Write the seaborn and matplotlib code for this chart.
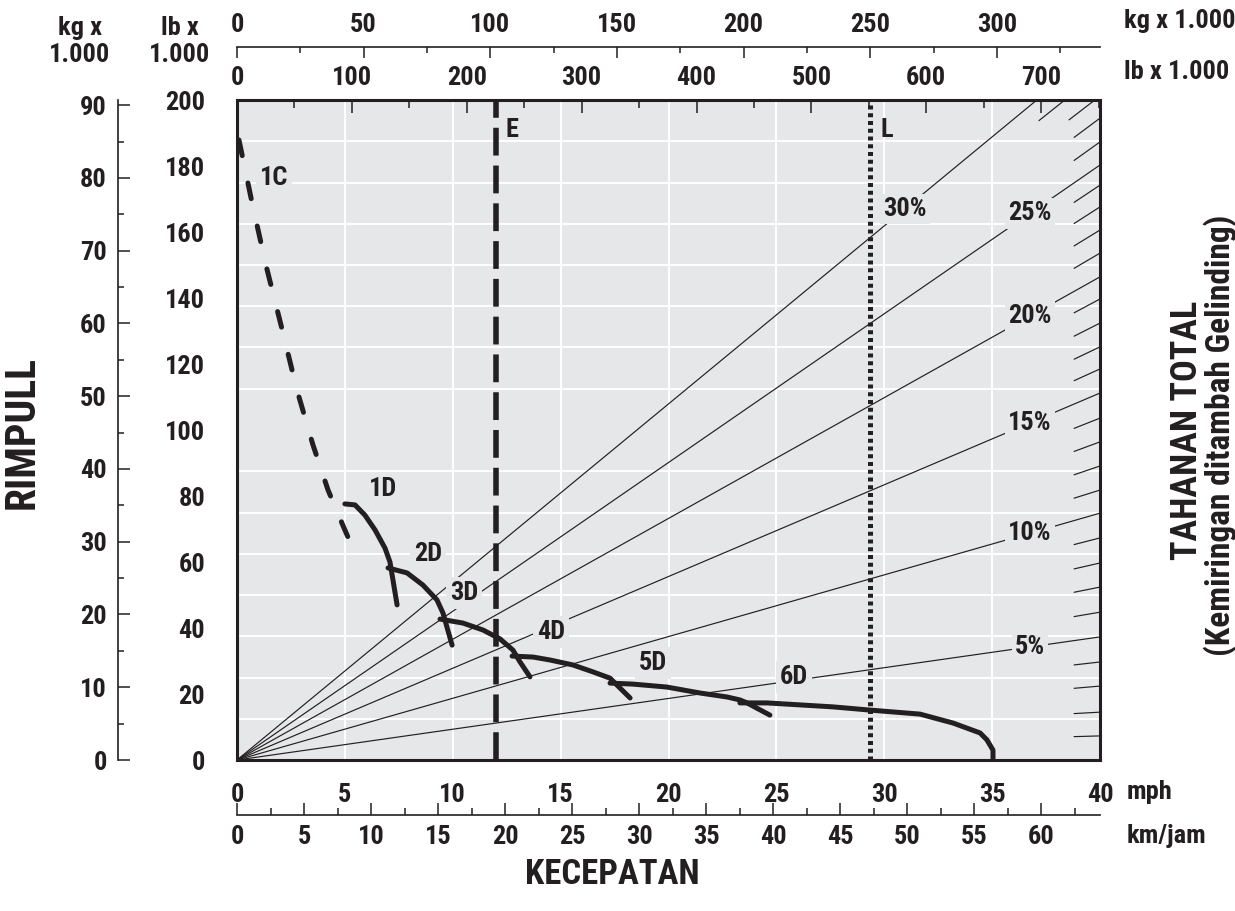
import os
import numpy as np
import pandas as pd
import matplotlib
matplotlib.use("Agg")
import matplotlib.pyplot as plt
from matplotlib import font_manager as fm
import seaborn as sns

# ---------------- data ----------------
mph_ticks = [0, 5, 10, 15, 20, 25, 30, 35, 40]
kmh_ticks = [0, 5, 10, 15, 20, 25, 30, 35, 40, 45, 50, 55, 60]
kmh_minor = [2.5, 7.5, 12.5, 17.5, 22.5, 27.5, 32.5, 37.5, 42.5, 47.5, 52.5, 57.5, 62.5]
rimpull_lb_ticks = [0, 20, 40, 60, 80, 100, 120, 140, 160, 180, 200]
rimpull_kg_ticks = [0, 10, 20, 30, 40, 50, 60, 70, 80, 90]
rimpull_kg_minor = [5, 15, 25, 35, 45, 55, 65, 75, 85]
weight_lb_ticks = [0, 100, 200, 300, 400, 500, 600, 700]
weight_lb_minor = [50, 150, 250, 350, 450, 550, 650, 750]
weight_kg_ticks = [0, 50, 100, 150, 200, 250, 300]
weight_kg_minor = [25, 75, 125, 175, 225, 275, 325]

gear_1C_speed = [0.09, 0.70, 1.34, 2.04, 2.78, 3.52, 4.22, 4.96, 5.47]
gear_1C_rimpull = [187.9, 168.8, 150.0, 131.8, 112.1, 95.5, 81.8, 70.3, 62.7]

gear_1D_speed = [5.00, 5.47, 5.93, 6.40, 6.86, 7.09, 7.23, 7.42]
gear_1D_rimpull = [77.6, 77.3, 74.2, 69.7, 64.2, 60.0, 54.5, 47.0]
gear_2D_speed = [7.00, 7.88, 8.62, 9.27, 9.55, 9.73, 9.97]
gear_2D_rimpull = [58.2, 56.7, 53.0, 48.5, 44.5, 40.3, 34.8]
gear_3D_speed = [9.41, 10.47, 11.40, 12.19, 12.79, 13.12, 13.58]
gear_3D_rimpull = [42.7, 41.5, 39.4, 36.7, 33.3, 29.7, 25.2]
gear_4D_speed = [12.75, 13.72, 14.51, 15.57, 16.50, 17.29, 17.52, 18.22]
gear_4D_rimpull = [31.5, 31.2, 30.3, 28.8, 26.7, 24.8, 23.3, 18.8]
gear_5D_speed = [17.29, 18.35, 19.93, 21.46, 22.71, 23.31, 23.64, 24.70]
gear_5D_rimpull = [23.3, 23.0, 22.1, 20.3, 19.1, 18.2, 17.3, 13.6]
gear_6D_speed = [23.31, 24.56, 27.62, 29.20, 31.66, 33.19, 34.44, 34.76, 35.04, 35.04]
gear_6D_rimpull = [17.3, 17.3, 16.1, 15.2, 13.9, 11.2, 8.2, 6.1, 3.0, 0.0]

gear_names = ["1D", "2D", "3D", "4D", "5D", "6D"]
gear_label_speed = [6.77, 8.85, 10.52, 14.55, 19.30, 25.82]
gear_label_rimpull = [82.1, 62.4, 50.6, 38.8, 29.4, 25.2]

# total resistance lines: rimpull (lb x 1000) that each line reaches at 40 mph
resistance_pct = list(range(1, 31))
resistance_rimpull_at_40 = [7.3, 14.5, 22.4, 29.7, 37.3, 44.8, 52.4, 59.7, 67.3, 74.8,
                            81.8, 89.1, 96.4, 103.6, 111.2, 118.5, 125.2, 132.4, 139.7, 146.4,
                            153.6, 160.6, 167.6, 174.2, 180.3, 187.3, 194.5, 201.2, 208.5, 215.8]
labeled_pct = [5, 10, 15, 20, 25, 30]
labeled_pct_speed = [36.75, 36.75, 36.75, 36.75, 36.75, 30.96]

E_speed = 12.0
L_speed = 29.35

# ---------------- scale conversions ----------------
KMH_PER_MPH = 1.609344
KG_PER_LB = 1 / 2.20462
LB_PER_MPH = 18.78   # top gross-weight scale vs. speed axis

INK = "#231f20"
BG = "#e6e7e8"

# ---------------- font: a condensed bold face ----------------
files = {}
for f in fm.fontManager.ttflist:
    files.setdefault(os.path.basename(f.fname), f.fname)
cands = ["RobotoCondensed-Bold.ttf", "BarlowCondensed-Bold.ttf", "AsapCondensed-Bold.ttf",
         "LiberationSansNarrow-Bold.ttf", "LiberationSans-Bold.ttf"]
chosen = next((files[c] for c in cands if c in files), None)
FAM = ["DejaVu Sans"]
if chosen:
    fm.fontManager.ttflist.insert(0, fm.FontEntry(fname=chosen, name="ChartCond", style="normal",
                                                  variant="normal", weight=700, stretch="normal",
                                                  size="scalable"))
    FAM = ["ChartCond", "DejaVu Sans"]

sns.set_theme(style="darkgrid", rc={"axes.facecolor": BG, "grid.color": "white"})
plt.rcParams["font.family"] = FAM
plt.rcParams["font.weight"] = "bold"
plt.rcParams["text.color"] = INK
plt.rcParams["xtick.color"] = INK
plt.rcParams["ytick.color"] = INK

W, H = 1235, 911
fig = plt.figure(figsize=(W / 100, H / 100), dpi=100)
fig.patch.set_facecolor("white")
AX_L, AX_R, AX_T, AX_B = 237, 1100, 100, 760
ax = fig.add_axes([AX_L / W, 1 - AX_B / H, (AX_R - AX_L) / W, (AX_B - AX_T) / H])
ax.set_facecolor(BG)
ax.set_xlim(0, 40)
ax.set_ylim(0, 200)
ax.set_axisbelow(True)

TS = 19

ax.set_xticks(mph_ticks)
ax.set_xticklabels([])
ax.set_yticks(rimpull_lb_ticks)
ax.set_yticks(np.arange(0, 200.01, 12.5), minor=True)
ax.tick_params(axis="x", which="both", length=0, labelbottom=False)
ax.tick_params(axis="y", which="major", length=0, pad=23, labelsize=TS, labelcolor=INK)
ax.tick_params(axis="y", which="minor", length=0)
ax.grid(False)
ax.xaxis.grid(True, which="major", color="white", lw=1.4)
ax.yaxis.grid(True, which="minor", color="white", lw=1.4)
ax.yaxis.grid(False, which="major")
for s in ax.spines.values():
    s.set_visible(True)
    s.set_color(INK)
    s.set_linewidth(2.2)
    s.set_zorder(6)

# ---------------- resistance lines ----------------
rays = []
for p, e in zip(resistance_pct, resistance_rimpull_at_40):
    x_exit = 40 if e <= 200 else 40 * 200 / e
    x0 = 0 if p in labeled_pct else x_exit - 1.2
    rays.append(pd.DataFrame({"speed": [x0, x_exit], "rimpull": [e * x0 / 40, e * x_exit / 40], "line": p}))
df_rays = pd.concat(rays, ignore_index=True)
sns.lineplot(data=df_rays, x="speed", y="rimpull", units="line", estimator=None, sort=False,
             color=INK, linewidth=0.85, ax=ax, legend=False, zorder=2)

for p, xs in zip(labeled_pct, labeled_pct_speed):
    e = resistance_rimpull_at_40[resistance_pct.index(p)]
    ax.text(xs, e * xs / 40, f"{p}%", ha="center", va="center", fontsize=TS, color=INK,
            zorder=4, bbox=dict(boxstyle="square,pad=0.12", fc=BG, ec="none"))

# ---------------- E and L lines ----------------
ax.axvline(E_speed, color=INK, lw=4.0, linestyle=(0, (5, 1.8)), zorder=3)
ax.axvline(L_speed, color=INK, lw=3.6, linestyle=(0, (0.8, 0.75)), zorder=3)
ax.text(E_speed + 0.75, 191, "E", ha="center", va="center", fontsize=TS, color=INK, zorder=4)
ax.text(L_speed + 0.75, 191, "L", ha="center", va="center", fontsize=TS, color=INK, zorder=4)

# ---------------- rimpull curves ----------------
frames = []
for name, sp, rp in zip(gear_names,
                        [gear_1D_speed, gear_2D_speed, gear_3D_speed, gear_4D_speed, gear_5D_speed, gear_6D_speed],
                        [gear_1D_rimpull, gear_2D_rimpull, gear_3D_rimpull, gear_4D_rimpull, gear_5D_rimpull, gear_6D_rimpull]):
    frames.append(pd.DataFrame({"speed": sp, "rimpull": rp, "gear": name}))
df_gears = pd.concat(frames, ignore_index=True)
sns.lineplot(data=df_gears, x="speed", y="rimpull", units="gear", estimator=None, sort=False,
             color=INK, linewidth=3.6, ax=ax, legend=False, zorder=5,
             solid_capstyle="round", solid_joinstyle="round")
df_1c = pd.DataFrame({"speed": gear_1C_speed, "rimpull": gear_1C_rimpull})
sns.lineplot(data=df_1c, x="speed", y="rimpull", estimator=None, sort=False, color=INK,
             linewidth=3.6, ax=ax, legend=False, zorder=5)
ax.lines[-1].set_linestyle((0, (3.2, 5.6)))
ax.lines[-1].set_dash_capstyle("round")

for name, xs, ys in zip(gear_names, gear_label_speed, gear_label_rimpull):
    ax.text(xs, ys, name, ha="center", va="center", fontsize=TS, color=INK, zorder=4,
            bbox=dict(boxstyle="square,pad=0.15", fc=BG, ec="none"))
ax.text(1.71, 176.4, "1C", ha="center", va="center", fontsize=TS, color=INK, zorder=4,
        bbox=dict(boxstyle="square,pad=0.15", fc=BG, ec="none"))
ax.set_xlabel("")
ax.set_ylabel("")

# ---------------- secondary scales ----------------
lbw = ax.secondary_xaxis("top", functions=(lambda m: m * LB_PER_MPH, lambda w: w / LB_PER_MPH))
lbw.set_xticks(weight_lb_ticks)
lbw.set_xticks(weight_lb_minor, minor=True)
lbw.tick_params(which="major", direction="in", length=9.5, width=1.1, color=INK, pad=7,
                labelsize=TS, labelcolor=INK)
lbw.tick_params(which="minor", direction="in", length=5.5, width=1.1, color=INK)
lbw.spines["top"].set_visible(False)

kgw = ax.secondary_xaxis(1 + (AX_T - 47) / (AX_B - AX_T),
                         functions=(lambda m: m * LB_PER_MPH * KG_PER_LB,
                                    lambda k: k / (LB_PER_MPH * KG_PER_LB)))
kgw.set_xticks(weight_kg_ticks)
kgw.set_xticks(weight_kg_minor, minor=True)
kgw.tick_params(which="major", direction="in", length=8, width=1.1, color=INK, pad=7,
                labelsize=TS, labelcolor=INK)
kgw.tick_params(which="minor", direction="in", length=4.5, width=1.1, color=INK)
kgw.spines["top"].set_color(INK)
kgw.spines["top"].set_linewidth(1.2)

kgr = ax.secondary_yaxis(-(AX_L - 118) / (AX_R - AX_L),
                         functions=(lambda l: l * KG_PER_LB, lambda k: k / KG_PER_LB))
kgr.set_yticks(rimpull_kg_ticks)
kgr.set_yticks(rimpull_kg_minor, minor=True)
kgr.tick_params(which="major", direction="in", length=8.5, width=1.1, color=INK, pad=8,
                labelsize=TS, labelcolor=INK)
kgr.tick_params(which="minor", direction="in", length=4.5, width=1.1, color=INK)
kgr.spines["left"].set_color(INK)
kgr.spines["left"].set_linewidth(1.2)

loc_b = -(815 - AX_B) / (AX_B - AX_T)
kmx = ax.secondary_xaxis(loc_b, functions=(lambda m: m * KMH_PER_MPH, lambda k: k / KMH_PER_MPH))
kmx.set_xticks(kmh_ticks)
kmx.set_xticks(kmh_minor, minor=True)
kmx.tick_params(which="major", direction="in", length=8.5, width=1.1, color=INK, pad=7,
                labelsize=TS, labelcolor=INK)
kmx.tick_params(which="minor", direction="in", length=4.7, width=1.1, color=INK)
kmx.spines["bottom"].set_color(INK)
kmx.spines["bottom"].set_linewidth(1.2)

mphx = ax.secondary_xaxis(loc_b, functions=(lambda m: m, lambda m: m))
mphx.set_alignment("top")
mphx.set_xticks(mph_ticks)
mphx.tick_params(which="both", length=0, pad=6, labelsize=TS, labelcolor=INK)
mphx.spines["top"].set_visible(False)

# ---------------- figure texts ----------------
def ftext(px, py, s, **kw):
    fig.text(px / W, 1 - py / H, s, color=INK, fontweight="bold", **kw)

ftext(80, 28, "kg x", ha="center", va="center", fontsize=TS)
ftext(80, 55, "1.000", ha="center", va="center", fontsize=TS)
ftext(180, 28, "lb x", ha="center", va="center", fontsize=TS)
ftext(180, 55, "1.000", ha="center", va="center", fontsize=TS)
ftext(1124, 21, "kg x 1.000", ha="left", va="center", fontsize=TS)
ftext(1124, 72, "lb x 1.000", ha="left", va="center", fontsize=TS)
ftext(1127, 792, "mph", ha="left", va="center", fontsize=TS)
ftext(1127, 836, "km/jam", ha="left", va="center", fontsize=TS)
ftext(22, 433, "RIMPULL", ha="center", va="center", rotation=90, fontsize=30)
ftext(612, 874, "KECEPATAN", ha="center", va="center", fontsize=25)
ftext(1187, 430, "TAHANAN TOTAL", ha="center", va="center", rotation=90, fontsize=26)
ftext(1220, 435, "(Kemiringan ditambah Gelinding)", ha="center", va="center", rotation=90, fontsize=24)

fig.savefig("out.png", dpi=100)
